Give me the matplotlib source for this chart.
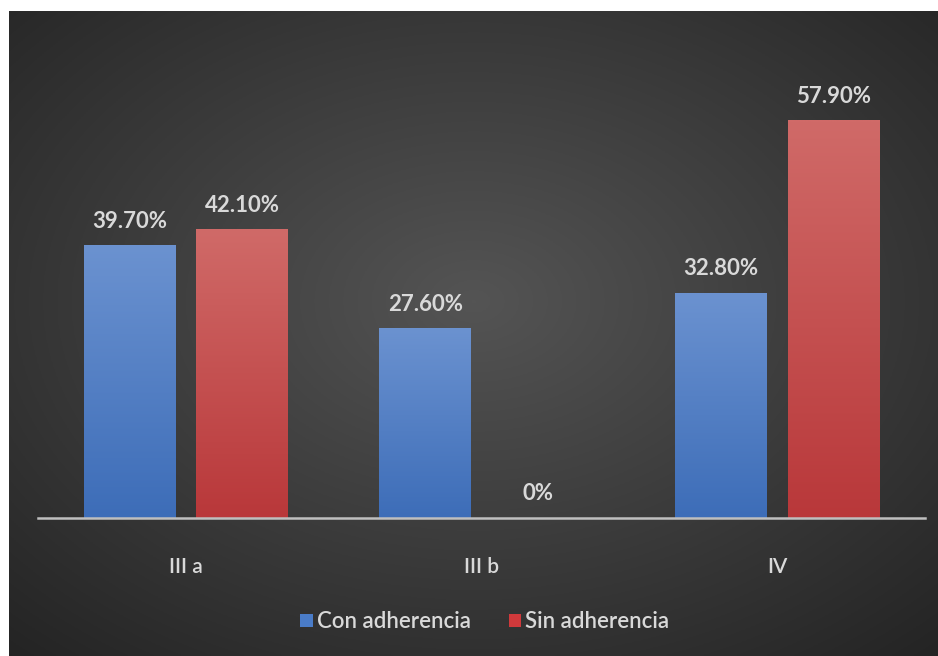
import numpy as np
import matplotlib
matplotlib.use('Agg')
import matplotlib.pyplot as plt
from matplotlib.patches import Patch

categories = ['III a', 'III b', 'IV']
con_adherencia = [39.70, 27.60, 32.80]
sin_adherencia = [42.10, 0.0, 57.90]
con_labels = ['39.70%', '27.60%', '32.80%']
sin_labels = ['42.10%', '0%', '57.90%']

plt.rcParams['font.family'] = ['Lato', 'DejaVu Sans']

W, H = 938, 656
fig = plt.figure(figsize=(W / 100, H / 100), dpi=100, facecolor='white')

# dark radial background
bg = fig.add_axes([9 / W, 0, (W - 9) / W, (H - 11) / H])
yy, xx = np.mgrid[-1:1:300j, -1:1:400j]
r = np.sqrt(xx ** 2 + (yy + 0.1) ** 2) / np.sqrt(2)
shade = 0.33 - 0.18 * r
bg.imshow(np.dstack([shade, shade, shade]), aspect='auto', extent=[0, 1, 0, 1])
bg.set_axis_off()

ax = fig.add_axes([38 / W, 138 / H, 887 / W, 480 / H])
ax.set_facecolor('none')
x = np.arange(len(categories))
w = 0.31
off = 0.19


def gradient_bars(xpos, vals, top_col, bot_col):
    bars = ax.bar(xpos, vals, w, color='none', edgecolor='none')
    top = np.array(matplotlib.colors.to_rgb(top_col))
    bot = np.array(matplotlib.colors.to_rgb(bot_col))
    t = np.linspace(0, 1, 100)[:, None]
    grad = (top * (1 - t) + bot * t)[:, None, :]
    for b in bars:
        if b.get_height() <= 0:
            continue
        x0, x1 = b.get_x(), b.get_x() + b.get_width()
        ax.imshow(grad, aspect='auto', extent=[x0, x1, 0, b.get_height()],
                  zorder=2, interpolation='bilinear')
    return bars


gradient_bars(x - off, con_adherencia, '#6b92d0', '#3d6db8')
gradient_bars(x + off, sin_adherencia, '#d06a68', '#b9383a')

for i in range(len(categories)):
    ax.text(x[i] - off, con_adherencia[i] + 2.0, con_labels[i], ha='center',
            va='bottom', color='#d9d9d9', fontsize=16, fontweight='bold')
    ax.text(x[i] + off, sin_adherencia[i] + 2.0, sin_labels[i], ha='center',
            va='bottom', color='#d9d9d9', fontsize=16, fontweight='bold')

ax.set_xlim(-0.5, 2.5)
ax.set_ylim(0, 70)
ax.set_xticks(x)
ax.set_xticklabels(categories, color='#d9d9d9', fontsize=15, fontweight='semibold')
ax.tick_params(axis='x', length=0, pad=28)
ax.set_yticks([])
for s in ['top', 'right', 'left']:
    ax.spines[s].set_visible(False)
ax.spines['bottom'].set_color('#bfbfbf')
ax.spines['bottom'].set_linewidth(1.8)

handles = [Patch(facecolor='#4a7cc8', label='Con adherencia'),
           Patch(facecolor='#d0393b', label='Sin adherencia')]
leg = fig.legend(handles=handles, loc='center', bbox_to_anchor=(485 / W, 1 - 622 / H),
                 ncol=2, frameon=False, fontsize=16, handlelength=0.55,
                 handleheight=0.55, handletextpad=0.2, columnspacing=1.7,
                 prop={'size': 16, 'weight': 'semibold'})
for t in leg.get_texts():
    t.set_color('#d9d9d9')

fig.savefig('out.png', dpi=100, facecolor='white')
